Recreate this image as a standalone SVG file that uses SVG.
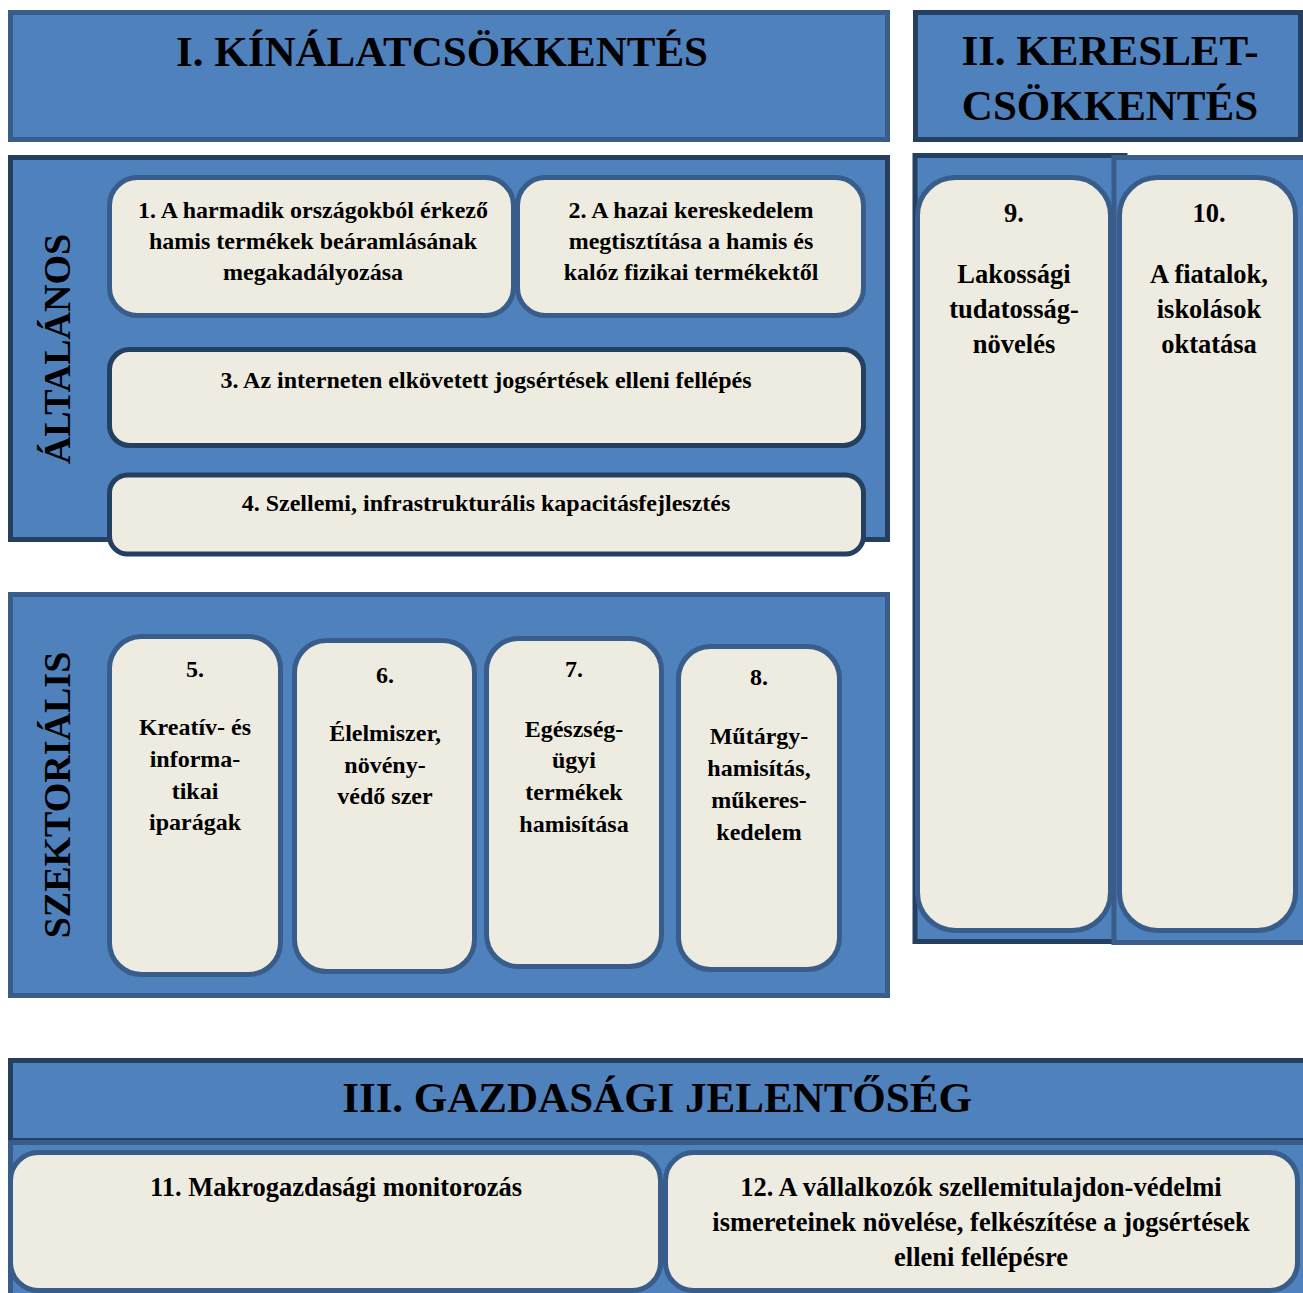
<svg xmlns="http://www.w3.org/2000/svg" width="1303" height="1293" viewBox="0 0 1303 1293">
<style>
.bg{fill:#4f81bd;stroke-width:5}
.med{stroke:#385d8a}
.dark{stroke:#243f60}
.node{fill:#eeece1;stroke-width:5}
text{font-family:'Liberation Serif','DejaVu Serif',serif;font-weight:700;fill:#000;text-anchor:middle}
.h{font-size:43px}
.v{font-size:38px}
.t{font-size:24px}
.s{font-size:24px}
.l{font-size:26.5px}
</style>
<rect width="1303" height="1293" fill="#ffffff"/>
<g id="header-I">
<rect class="bg med" x="10.5" y="12.5" width="877" height="127"/>
<text class="h" x="442" y="66">I. KÍNÁLATCSÖKKENTÉS</text>
</g>
<g id="panel-altalanos">
<rect class="bg dark" x="10.5" y="157.5" width="877" height="382"/>
<text class="v" transform="translate(70,349) rotate(-90)">ÁLTALÁNOS</text>
</g>
<g id="node-1">
<rect class="node med" x="109.5" y="177.5" width="404" height="138" rx="28"/>
<text class="t" x="313" y="218">1. A harmadik országokból érkező</text>
<text class="t" x="313" y="249">hamis termékek beáramlásának</text>
<text class="t" x="313" y="280">megakadályozása</text>
</g>
<g id="node-2">
<rect class="node med" x="517.5" y="177.5" width="346" height="138" rx="28"/>
<text class="t" x="691" y="218">2. A hazai kereskedelem</text>
<text class="t" x="691" y="249">megtisztítása a hamis és</text>
<text class="t" x="691" y="280">kalóz fizikai termékektől</text>
</g>
<g id="node-3">
<rect class="node dark" x="109.5" y="349.5" width="754" height="96" rx="20"/>
<text class="t" x="486" y="388">3. Az interneten elkövetett jogsértések elleni fellépés</text>
</g>
<g id="node-4">
<rect class="node dark" x="109.5" y="475" width="754" height="79" rx="18"/>
<text class="t" x="486" y="511">4. Szellemi, infrastrukturális kapacitásfejlesztés</text>
</g>
<g id="panel-szektorialis">
<rect class="bg med" x="10.5" y="594.5" width="877" height="401"/>
<text class="v" transform="translate(70,795) rotate(-90)">SZEKTORIÁLIS</text>
</g>
<g id="node-5">
<rect class="node med" x="109.5" y="636.5" width="171" height="338" rx="32"/>
<text class="s" x="195" y="677">5.</text>
<text class="s" x="195" y="735">Kreatív- és</text>
<text class="s" x="195" y="767">informa-</text>
<text class="s" x="195" y="799">tikai</text>
<text class="s" x="195" y="830">iparágak</text>
</g>
<g id="node-6">
<rect class="node med" x="294.5" y="640.5" width="180" height="331" rx="32"/>
<text class="s" x="385" y="683">6.</text>
<text class="s" x="385" y="741">Élelmiszer,</text>
<text class="s" x="385" y="773">növény-</text>
<text class="s" x="385" y="804">védő szer</text>
</g>
<g id="node-7">
<rect class="node med" x="486.5" y="638.5" width="175" height="328" rx="32"/>
<text class="s" x="574" y="677">7.</text>
<text class="s" x="574" y="737">Egészség-</text>
<text class="s" x="574" y="768">ügyi</text>
<text class="s" x="574" y="800">termékek</text>
<text class="s" x="574" y="832">hamisítása</text>
</g>
<g id="node-8">
<rect class="node med" x="678.5" y="646.5" width="161" height="323" rx="32"/>
<text class="s" x="759" y="685">8.</text>
<text class="s" x="759" y="744">Műtárgy-</text>
<text class="s" x="759" y="776">hamisítás,</text>
<text class="s" x="759" y="808">műkeres-</text>
<text class="s" x="759" y="840">kedelem</text>
</g>
<g id="header-II">
<rect class="bg dark" x="915.5" y="12.5" width="385" height="127"/>
<text class="h" x="1110" y="65">II. KERESLET-</text>
<text class="h" x="1110" y="120">CSÖKKENTÉS</text>
</g>
<g id="panel-9">
<rect class="bg dark" x="915" y="155.5" width="210" height="786"/>
</g>
<g id="panel-10">
<rect class="bg med" x="1114" y="157.5" width="195" height="785"/>
</g>
<g id="node-9">
<rect class="node med" x="917.5" y="177.5" width="193" height="753" rx="38"/>
<text class="l" x="1014" y="222">9.</text>
<text class="l" x="1014" y="283">Lakossági</text>
<text class="l" x="1014" y="318">tudatosság-</text>
<text class="l" x="1014" y="353">növelés</text>
</g>
<g id="node-10">
<rect class="node med" x="1119.5" y="177.5" width="176" height="753" rx="38"/>
<text class="l" x="1209" y="222">10.</text>
<text class="l" x="1209" y="283">A fiatalok,</text>
<text class="l" x="1209" y="318">iskolások</text>
<text class="l" x="1209" y="353">oktatása</text>
</g>
<g id="header-III">
<rect class="bg dark" x="10.5" y="1060.5" width="1295" height="80"/>
<text class="h" x="657" y="1112">III. GAZDASÁGI JELENTŐSÉG</text>
</g>
<g id="panel-III">
<rect class="bg med" x="10.5" y="1142.5" width="1295" height="160"/>
</g>
<g id="node-11">
<rect class="node med" x="10.5" y="1152.5" width="650" height="138" rx="28"/>
<text class="l" x="336" y="1196">11. Makrogazdasági monitorozás</text>
</g>
<g id="node-12">
<rect class="node med" x="665.5" y="1152.5" width="632" height="138" rx="28"/>
<text class="l" x="981" y="1196">12. A vállalkozók szellemitulajdon-védelmi</text>
<text class="l" x="981" y="1231">ismereteinek növelése, felkészítése a jogsértések</text>
<text class="l" x="981" y="1266">elleni fellépésre</text>
</g>
<g id="connectors"></g>
</svg>
